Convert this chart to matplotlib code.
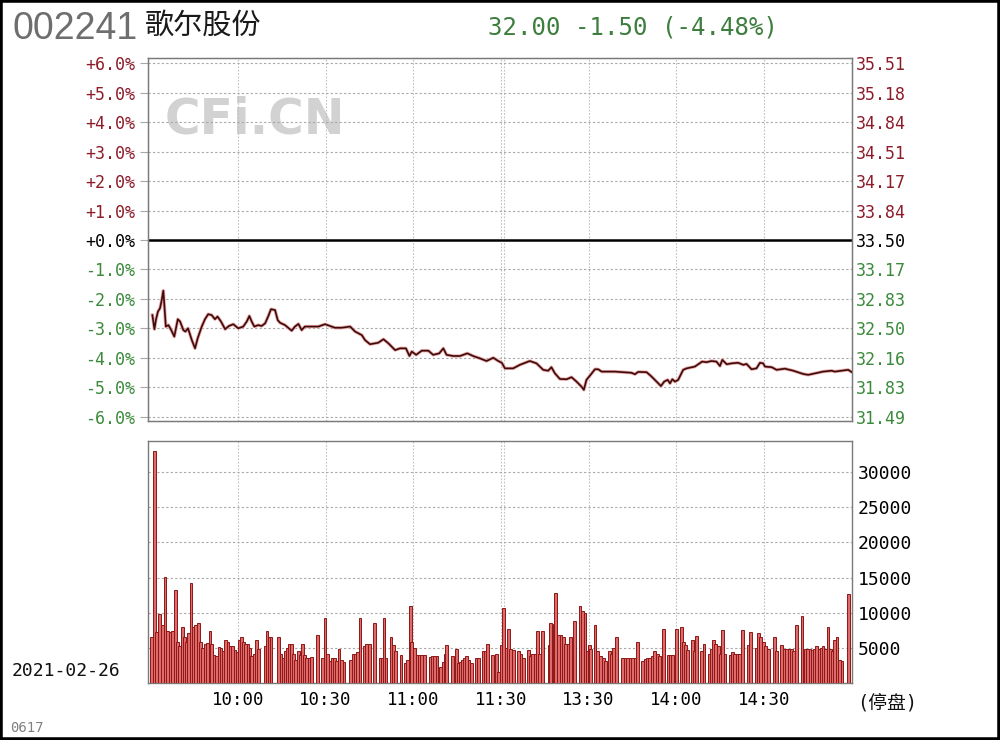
import numpy as np
import matplotlib
matplotlib.use('Agg')
import matplotlib.pyplot as plt
from matplotlib.patches import Rectangle

code = '002241'
name = '歌尔股份'
quote = '32.00 -1.50 (-4.48%)'
date = '2021-02-26'
footer = '0617'
base_price = 33.50

# minutes after 9:30 (13:00 == 120), change in %
price_t = [0.7, 1.4, 1.9, 2.6, 3.3, 3.9, 4.45, 4.8, 5.3, 6.2, 7.1, 8.2, 9.4, 10.2, 11.3, 12.0, 12.9,
           14.2, 15.3, 16.2, 17.6, 18.7, 19.8, 21.0, 22.1, 23.0, 24.2, 25.6, 26.9, 28.4, 30.1, 31.8,
           33.0, 33.9, 34.7, 35.6, 36.9, 38.1, 39.3, 40.4, 41.3, 42.7, 43.6, 44.4, 46.1, 48.4, 49.5,
           50.7, 51.8, 52.9, 55.2, 57.5, 59.8, 61.5, 63.2, 65.5, 68.4, 70.1, 72.4, 73.5, 75.2, 78.0,
           79.8, 81.5, 83.8, 85.5, 87.5, 88.7, 89.5, 91.0, 92.9, 95.2, 96.8, 98.9, 100.3, 101.4,
           103.7, 106.0, 108.5, 110.5, 112.8, 115.1, 117.4, 119.1, 120.3, 121.4, 124.2, 126.5,
           129.9, 132.2, 134.5, 136.2, 137.3, 138.5, 140.2, 142.5, 144.2, 145.9, 147.6, 148.4,
           149.3, 150.7, 152.2, 153.3, 154.5, 159.0, 164.7, 165.9, 167.0, 169.9, 171.6, 173.3,
           174.8, 175.9, 177.1, 177.9, 178.7, 179.6, 180.7, 182.4, 183.6, 186.4, 188.9, 190.4,
           192.1, 193.8, 195.0, 195.8, 197.3, 199.0, 201.2, 203.0, 204.1, 205.8, 207.5, 208.7,
           209.8, 210.4, 212.7, 214.4, 217.2, 220.1, 223.5, 225.2, 227.5, 230.3, 233.2, 234.3,
           236.6, 238.9, 240.0]
price_pct = [-2.55, -3.03, -2.72, -2.43, -2.32, -2.04, -1.72, -2.21, -2.94, -2.89, -3.05, -3.28,
             -2.69, -2.77, -3.06, -3.11, -3.00, -3.40, -3.68, -3.34, -2.94, -2.69, -2.52, -2.55,
             -2.69, -2.60, -2.77, -3.03, -2.92, -2.86, -3.00, -2.94, -2.77, -2.58, -2.77, -2.94,
             -2.89, -2.92, -2.83, -2.58, -2.35, -2.38, -2.72, -2.81, -2.89, -3.08, -2.94, -2.85,
             -3.06, -2.94, -2.94, -2.94, -2.86, -2.92, -2.98, -2.98, -2.94, -3.11, -3.23, -3.40,
             -3.54, -3.49, -3.37, -3.51, -3.74, -3.68, -3.68, -3.94, -3.79, -3.90, -3.76, -3.76,
             -3.90, -3.85, -3.68, -3.90, -3.94, -3.94, -3.85, -3.94, -4.02, -4.11, -4.00, -4.11,
             -4.17, -4.36, -4.36, -4.24, -4.11, -4.19, -4.41, -4.44, -4.32, -4.53, -4.72, -4.73,
             -4.66, -4.81, -4.98, -5.09, -4.75, -4.58, -4.39, -4.39, -4.47, -4.47, -4.51, -4.56,
             -4.48, -4.49, -4.64, -4.81, -4.96, -4.81, -4.75, -4.87, -4.73, -4.81, -4.75, -4.41,
             -4.36, -4.30, -4.13, -4.15, -4.11, -4.13, -4.28, -4.07, -4.22, -4.19, -4.17, -4.24,
             -4.21, -4.39, -4.36, -4.17, -4.19, -4.30, -4.32, -4.41, -4.37, -4.44, -4.55, -4.58,
             -4.53, -4.47, -4.44, -4.47, -4.44, -4.41, -4.48]

vol_t = [0.5, 1.3, 2.2, 3.2, 4.1, 5.0, 5.9, 6.7, 7.7, 8.5,
         9.3, 10.1, 10.9, 11.7, 12.4, 13.1, 13.9, 14.7, 15.5, 16.4,
         17.1, 17.9, 18.7, 19.5, 20.4, 21.0, 21.8, 22.6, 23.5, 24.2,
         25.1, 25.8, 26.6, 27.5, 28.2, 29.0, 29.8, 30.4, 31.3, 32.0,
         32.6, 33.4, 34.1, 34.7, 35.6, 36.4, 37.0, 39.5, 39.9, 40.6,
         41.3, 43.8, 44.7, 45.5, 46.1, 46.9, 47.6, 48.4, 49.0, 49.8,
         50.7, 51.3, 52.0, 52.7, 53.5, 54.3, 55.2, 57.2, 59.0, 59.8,
         60.7, 61.6, 62.3, 63.0, 63.8, 64.6, 65.5, 66.3, 68.6, 69.5,
         70.3, 71.0, 71.8, 73.3, 74.1, 74.9, 76.8, 78.6, 79.3, 80.0,
         80.7, 82.4, 83.2, 84.0, 85.8, 87.2, 88.1, 89.0, 89.5, 90.4,
         91.3, 92.1, 92.9, 93.8, 95.8, 96.5, 97.4, 98.1, 99.4, 100.2,
         100.9, 101.4, 103.4, 104.9, 105.4, 106.1, 106.8, 107.5, 108.3, 109.1,
         110.0, 111.5, 112.3, 114.0, 114.8, 115.5, 117.1, 118.5, 119.1,
         120.2, 121.0, 122.0, 122.5, 123.3, 124.2, 126.0, 126.9, 127.7, 129.4,
         130.2, 130.9, 131.7, 132.5, 133.1, 134.3, 136.6, 137.1, 138.3, 138.8,
         139.6, 140.6, 141.4, 142.2, 143.1, 143.9, 144.8, 145.3, 147.1, 148.0,
         148.8, 149.6, 150.3, 150.7, 152.2, 153.0, 154.2, 155.0, 155.9, 157.1,
         157.7, 158.5, 159.6, 161.7, 162.5, 163.3, 164.2, 165.0, 165.9, 166.7,
         168.5, 169.3, 170.1, 171.0, 171.9, 172.7, 173.5, 174.4, 175.6, 177.3,
         178.1, 178.8, 180.1, 181.9, 182.4, 183.2, 184.0, 185.6, 186.4, 187.0,
         188.8, 189.5, 191.3, 192.1, 192.7, 193.6, 194.4, 195.2, 195.9, 196.7,
         198.4, 199.2, 200.0, 200.9, 201.8, 202.7, 204.7, 205.5, 207.3, 208.1,
         208.9, 209.8, 210.6, 211.5, 213.6, 214.4, 216.1, 216.9, 217.8, 218.7,
         219.5, 220.3, 221.2, 223.1, 224.1, 224.9, 225.8, 226.6, 227.3, 228.1,
         229.0, 229.8, 230.3, 231.2, 232.0, 232.8, 233.5, 234.3, 235.1, 236.0,
         236.8, 239.1]
vol = [6600, 33000, 7300, 9800, 8300, 15100, 7400, 7300, 7400, 13300,
       5900, 5300, 7900, 6500, 5900, 7100, 14300, 8000, 8300, 8500,
       5900, 5000, 5500, 5700, 7400, 5500, 4000, 3900, 5100, 5000,
       4500, 6100, 5900, 5200, 5200, 4700, 4400, 6100, 6500, 5900,
       5500, 5500, 5000, 3900, 4200, 6100, 4900, 5200, 7400, 6600,
       6600, 6600, 4200, 3500, 4500, 5000, 5500, 5500, 4100, 3300,
       4600, 4000, 5600, 4000, 3500, 3500, 3700, 6900, 3500, 9300,
       4200, 3100, 3500, 3500, 3100, 4900, 3300, 3000, 3300, 4200,
       4200, 4400, 9300, 5200, 5500, 5500, 8500, 3500, 3500, 9300,
       3600, 6600, 5400, 4500, 4000, 2800, 3300, 10900, 5900, 5000,
       4000, 4000, 4000, 4000, 3700, 3800, 3800, 3800, 2300, 3000,
       4200, 5400, 3800, 4900, 2800, 3000, 3300, 3500, 3800, 3300,
       2800, 3500, 3500, 4600, 4500, 5500, 4000, 4200, 1600,
       5400, 10700, 5000, 7700, 4900, 4700, 4500, 4100, 3500, 4700,
       3900, 4100, 4200, 7400, 4200, 7400, 5400, 8500, 8400, 12800,
       6800, 6800, 6600, 5600, 5600, 6600, 3500, 8800, 10900, 10200,
       10000, 4500, 5400, 4900, 8300, 4600, 3800, 3500, 3100, 4500,
       4100, 5000, 6500, 3500, 3500, 3500, 3500, 3500, 3500, 5800,
       3100, 3400, 3500, 3600, 3800, 4500, 4200, 3900, 7700, 4000,
       4000, 4000, 7700, 7900, 5900, 5400, 4700, 6100, 4500, 6700,
       4500, 5500, 4200, 4900, 6100, 5500, 5200, 4200, 7600, 4100,
       4000, 4400, 4200, 4200, 4100, 7500, 5400, 7200, 5000, 7100,
       6600, 5900, 5200, 4900, 6500, 4500, 5400, 4900, 4900, 4900,
       4900, 4500, 8200, 9600, 4900, 4900, 4900, 4700, 4900, 5300,
       4900, 5000, 5200, 4900, 8000, 4900, 4600, 6100, 6500, 3300,
       3100, 12700]

pct_ticks = [6, 5, 4, 3, 2, 1, 0, -1, -2, -3, -4, -5, -6]
time_ticks = [30, 60, 90, 120, 150, 180, 210]
time_labels = ['10:00', '10:30', '11:00', '11:30', '13:30', '14:00', '14:30']
vol_ticks = [5000, 10000, 15000, 20000, 25000, 30000]

RED = '#8c1c2a'
GREEN = '#3b8a3b'
mono = ['DejaVu Sans Mono', 'Noto Sans CJK SC']
grid_h = dict(color='#a8a8a8', lw=0.8, ls=(0, (2, 2)))
grid_v = dict(color='#c0c0c0', lw=0.8, ls=(0, (1.5, 1.5)))


def sign_color(p):
    if p > 0:
        return RED
    if p < 0:
        return GREEN
    return 'black'


fig = plt.figure(figsize=(10, 7.4), dpi=100)
ax1 = fig.add_axes([0.148, 0.431, 0.704, 0.4905])
ax2 = fig.add_axes([0.148, 0.077, 0.704, 0.327])

for ax in (ax1, ax2):
    ax.set_xlim(-0.8, 240.2)
    ax.set_xticks(time_ticks)
    for s in ax.spines.values():
        s.set_color('#7a7a7a')
        s.set_linewidth(1)
    for t in time_ticks:
        ax.axvline(t, zorder=0.5, **grid_v)
    ax.axvline(121, zorder=0.5, **grid_v)

# price panel
ax1.set_ylim(-6.15, 6.18)
ax1.set_yticks(pct_ticks)
for p in pct_ticks:
    if p != 0:
        ax1.axhline(p, zorder=0.5, **grid_h)
ax1.axhline(0, color='black', lw=1.8, zorder=2)
ax1.set_yticklabels([f'{p:+.1f}%' for p in pct_ticks], family=mono, fontsize=12)
for lab, p in zip(ax1.get_yticklabels(), pct_ticks):
    lab.set_color(sign_color(p))
ax1.tick_params(axis='y', length=6, width=0.8, color='#a8a8a8', pad=3)
ax1.tick_params(axis='x', length=0, labelbottom=False)

ax1.plot(price_t, price_pct, color='#eaa4a4', lw=2.4, zorder=3, solid_joinstyle='round')
ax1.plot(price_t, price_pct, color='#3c0b0b', lw=1.2, zorder=4, solid_joinstyle='round')

ax1.text(0.165, 1 - 120 / 740, 'CFi.CN', transform=fig.transFigure, fontsize=35,
         weight='bold', color='#d2d2d2', va='center', ha='left', zorder=0.3)

ax1r = ax1.twinx()
ax1r.set_ylim(ax1.get_ylim())
ax1r.set_yticks(pct_ticks)
ax1r.set_yticklabels([f'{np.floor(base_price * (100 + p) + 0.5) / 100:.2f}' for p in pct_ticks],
                     family=mono, fontsize=12)
for lab, p in zip(ax1r.get_yticklabels(), pct_ticks):
    lab.set_color(sign_color(p))
ax1r.tick_params(axis='y', length=0, pad=3)
for s in ax1r.spines.values():
    s.set_color('#7a7a7a')

# volume panel
ax2.bar(vol_t, vol, width=0.95, color='#df6a6a', edgecolor='#8e1717', lw=0.7, zorder=3)
ax2.set_ylim(0, 34430)
for v in vol_ticks:
    ax2.axhline(v, zorder=0.5, **grid_h)
ax2.yaxis.tick_right()
ax2.set_yticks(vol_ticks)
ax2.set_yticklabels([str(v) for v in vol_ticks], family=mono, fontsize=13)
ax2.tick_params(axis='y', length=0, pad=4)
ax2.set_xticklabels(time_labels, family=mono, fontsize=12.5)
ax2.tick_params(axis='x', length=0, pad=6)

# header / side texts
fig.text(0.012, 1 - 29 / 740, code, family='Liberation Sans', fontsize=27,
         color='#6e6e6e', va='center')
fig.text(0.145, 1 - 26 / 740, name, family='Noto Sans CJK SC', fontsize=21,
         color='#1a1a1a', va='center')
fig.text(0.488, 1 - 27 / 740, quote, family=mono, fontsize=17.3, color='#3d7d3d', va='center')
fig.text(0.012, 1 - 671 / 740, date, family=mono, fontsize=13, color='#111111', va='center')
fig.text(0.857, 1 - 703 / 740, '(停盘)', family=mono, fontsize=13.5, color='#111111', va='center')
fig.text(0.010, 1 - 728 / 740, footer, family=mono, fontsize=10, color='#808080', va='center')

fig.patches.append(Rectangle((0, 0), 1, 1, transform=fig.transFigure, fill=False,
                             edgecolor='black', lw=4))

fig.savefig('out.png', dpi=100)
